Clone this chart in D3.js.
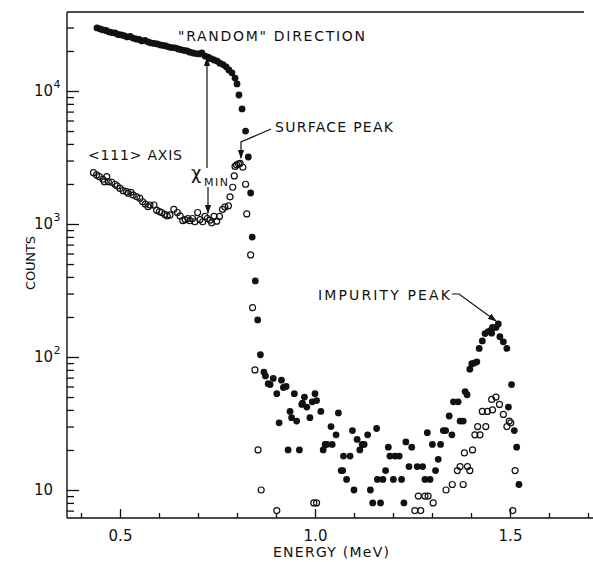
<!DOCTYPE html>
<html>
<head>
<meta charset="utf-8">
<script src="https://cdn.jsdelivr.net/npm/d3@7"></script>
<style>
  html, body { margin: 0; padding: 0; background: #fff; }
  svg { display: block; }
  text { font-family: "DejaVu Sans", "Liberation Sans", sans-serif; fill: #111; }
</style>
</head>
<body>
<svg id="chart" width="593" height="562"></svg>
<script>
// [energy (MeV), counts]
const randomPlateau = [
  [0.441, 29800], [0.449, 29300], [0.456, 28800], [0.464, 28500], [0.472, 27800], [0.479, 27500],
  [0.487, 27300], [0.495, 26600], [0.503, 26400], [0.510, 26100], [0.518, 25500], [0.526, 25700],
  [0.533, 25000], [0.541, 24600], [0.549, 24400], [0.556, 23800], [0.564, 24000], [0.572, 23400],
  [0.579, 23000], [0.587, 22800], [0.595, 22600], [0.603, 22200], [0.610, 22000], [0.618, 21800],
  [0.626, 21400], [0.633, 21200], [0.641, 21100], [0.649, 20700], [0.656, 20500], [0.664, 20200],
  [0.672, 20000], [0.679, 19600], [0.687, 19300], [0.695, 19100], [0.703, 19000], [0.710, 19300],
  [0.718, 18300], [0.726, 18000], [0.733, 17500], [0.741, 17100], [0.749, 16800], [0.756, 16200],
  [0.764, 15800], [0.772, 15200], [0.779, 14400], [0.787, 13700], [0.795, 12500], [0.800, 11300]
];
const randomEdge = [
  [0.805, 9330], [0.813, 7330], [0.822, 5000], [0.829, 3190], [0.835, 1710], [0.839, 798],
  [0.847, 373], [0.853, 190], [0.860, 104]
];
const randomTail = [
  [0.869, 77], [0.873, 72], [0.880, 63], [0.885, 62], [0.893, 69], [0.902, 53], [0.908, 32],
  [0.914, 67], [0.919, 59], [0.926, 60], [0.931, 20], [0.936, 39], [0.940, 35], [0.947, 53],
  [0.953, 33], [0.960, 20], [0.966, 44], [0.968, 45], [0.973, 50], [0.979, 42], [0.987, 35],
  [0.993, 46], [1.000, 53], [1.004, 47], [1.015, 39], [1.021, 20], [1.026, 22], [1.030, 22],
  [1.041, 30], [1.044, 22], [1.054, 26], [1.060, 38], [1.067, 14], [1.071, 14], [1.073, 18],
  [1.081, 12], [1.090, 18], [1.096, 28], [1.100, 10], [1.108, 24], [1.115, 20], [1.121, 22],
  [1.126, 22], [1.135, 26], [1.142, 10], [1.148, 8], [1.158, 29], [1.160, 12], [1.168, 8],
  [1.174, 12], [1.181, 14], [1.188, 21], [1.192, 18], [1.201, 12], [1.205, 18], [1.216, 18],
  [1.222, 12], [1.228, 8], [1.233, 23], [1.241, 15], [1.248, 21], [1.262, 15], [1.276, 15],
  [1.282, 12], [1.288, 27], [1.295, 12], [1.301, 22], [1.309, 14], [1.316, 17], [1.322, 22],
  [1.329, 28], [1.335, 28], [1.344, 36], [1.351, 26], [1.355, 46], [1.367, 46], [1.372, 33],
  [1.380, 33], [1.385, 55], [1.390, 52], [1.397, 81], [1.402, 89], [1.408, 90], [1.415, 92],
  [1.421, 116], [1.429, 132], [1.436, 150], [1.444, 155], [1.452, 160], [1.453, 151], [1.455, 167],
  [1.464, 167], [1.470, 177], [1.474, 142], [1.483, 130], [1.492, 116], [1.496, 42], [1.504, 62],
  [1.511, 28], [1.517, 21], [1.523, 11]
];

const axisPlateau = [
  [0.432, 2430], [0.440, 2340], [0.447, 2270], [0.456, 2170], [0.460, 2080], [0.466, 2270],
  [0.470, 2080], [0.479, 2060], [0.487, 1990], [0.493, 1930], [0.500, 1850], [0.508, 1780],
  [0.517, 1750], [0.521, 1700], [0.528, 1730], [0.534, 1650], [0.543, 1600], [0.551, 1560],
  [0.558, 1470], [0.565, 1410], [0.572, 1350], [0.577, 1390], [0.587, 1390], [0.594, 1270],
  [0.601, 1240], [0.607, 1220], [0.615, 1180], [0.621, 1150], [0.628, 1170], [0.638, 1290],
  [0.647, 1220], [0.654, 1150], [0.661, 1060], [0.667, 1080], [0.674, 1100], [0.679, 1060],
  [0.686, 1100], [0.692, 1040], [0.699, 1220], [0.705, 1080], [0.712, 1040], [0.718, 1140],
  [0.724, 1100], [0.731, 1070], [0.735, 1020], [0.741, 1140], [0.748, 1050], [0.755, 1140],
  [0.763, 1290], [0.769, 1340], [0.778, 1370]
];
const axisEdge = [
  [0.782, 1600], [0.789, 1890], [0.793, 2300], [0.795, 2710], [0.799, 2780], [0.804, 2830],
  [0.808, 2860], [0.815, 2670], [0.822, 1990], [0.825, 1190], [0.835, 585], [0.840, 235],
  [0.846, 80], [0.854, 20], [0.862, 10], [0.902, 7]
];
const axisTail = [
  [0.997, 8], [1.004, 8], [1.256, 7], [1.265, 9], [1.271, 7], [1.282, 9], [1.290, 9], [1.303, 8],
  [1.336, 10], [1.352, 11], [1.365, 14], [1.372, 15], [1.380, 11], [1.383, 19], [1.391, 15],
  [1.397, 14], [1.404, 20], [1.410, 26], [1.417, 30], [1.423, 26], [1.429, 39], [1.438, 30],
  [1.442, 39], [1.453, 48], [1.455, 40], [1.464, 50], [1.473, 44], [1.483, 37], [1.492, 30],
  [1.498, 33], [1.502, 32], [1.507, 7], [1.513, 14]
];

const xMajorTicks = [0.5, 1.0, 1.5];
const xMinorTicks = [0.4, 0.6, 0.7, 0.8, 0.9, 1.1, 1.2, 1.3, 1.4, 1.6, 1.7];
const yMajorTicks = [10, 100, 1000, 10000];
const yTickExponents = ["", "2", "3", "4"];

const svg = d3.select("#chart");
const plotLeft = 67, plotRight = 593, plotTop = 12, plotBottom = 518;

const x = d3.scaleLinear().domain([0.5, 1.5]).range([120, 510]);
const y = d3.scaleLog().domain([10, 10000]).range([490, 91]);

const yMinorTicks = [1, 10, 100, 1000, 10000]
  .flatMap(d => [2, 3, 4, 5, 6, 7, 8, 9].map(m => m * d))
  .filter(v => y(v) > plotTop + 4 && y(v) < plotBottom - 3);

// frame
const frame = svg.append("g").attr("stroke", "#111").attr("stroke-width", 1.4);
frame.append("line").attr("x1", plotLeft).attr("x2", plotRight).attr("y1", plotBottom).attr("y2", plotBottom);
frame.append("line").attr("x1", plotLeft).attr("x2", plotLeft).attr("y1", plotTop).attr("y2", plotBottom);
frame.append("line").attr("x1", plotLeft).attr("x2", 584).attr("y1", plotTop).attr("y2", plotTop);

function styleAxis(g) {
  g.select(".domain").remove();
  g.selectAll(".tick line").attr("stroke", "#111").attr("stroke-width", 1.3);
  g.attr("font-family", null).attr("font-size", null);
}

svg.append("g").attr("transform", `translate(0,${plotBottom})`)
  .call(d3.axisBottom(x).tickValues(xMinorTicks).tickSize(-5).tickFormat(""))
  .call(styleAxis);
svg.append("g").attr("transform", `translate(0,${plotBottom})`)
  .call(d3.axisBottom(x).tickValues(xMajorTicks).tickSize(-9).tickPadding(12).tickFormat(d3.format(".1f")))
  .call(styleAxis)
  .selectAll("text").attr("font-size", 15).attr("fill", "#111");

svg.append("g").attr("transform", `translate(${plotLeft},0)`)
  .call(d3.axisLeft(y).tickValues(yMinorTicks).tickSize(-7).tickFormat(""))
  .call(styleAxis);
svg.append("g").attr("transform", `translate(${plotLeft},0)`)
  .call(d3.axisLeft(y).tickValues(yMajorTicks).tickSize(-12).tickFormat(""))
  .call(styleAxis);

const yLabels = svg.append("g");
yMajorTicks.forEach((v, i) => {
  yLabels.append("text").attr("x", 53).attr("y", y(v)).attr("dy", "0.33em")
    .attr("text-anchor", "end").attr("font-size", 15).text("10");
  if (yTickExponents[i]) {
    yLabels.append("text").attr("x", 53.5).attr("y", y(v) - 3)
      .attr("font-size", 11).text(yTickExponents[i]);
  }
});

// axis titles
svg.append("text").attr("x", 331).attr("y", 557).attr("text-anchor", "middle")
  .attr("font-size", 14).attr("textLength", 116).text("ENERGY (MeV)");
svg.append("text").attr("transform", "translate(35,263) rotate(-90)").attr("text-anchor", "middle")
  .attr("font-size", 13).attr("textLength", 54).text("COUNTS");

// data
const random = randomPlateau.concat(randomEdge, randomTail);
const channeled = axisPlateau.concat(axisEdge, axisTail);

svg.append("g").selectAll("circle").data(random).join("circle")
  .attr("cx", d => x(d[0])).attr("cy", d => y(d[1])).attr("r", 3.4)
  .attr("fill", "#111");

svg.append("g").selectAll("circle").data(channeled).join("circle")
  .attr("cx", d => x(d[0])).attr("cy", d => y(d[1])).attr("r", 3)
  .attr("fill", "none").attr("stroke", "#111").attr("stroke-width", 1.2);

// annotations
svg.append("defs").append("marker")
  .attr("id", "head").attr("viewBox", "0 0 10 10").attr("refX", 9).attr("refY", 5)
  .attr("markerWidth", 9).attr("markerHeight", 9).attr("markerUnits", "userSpaceOnUse")
  .attr("orient", "auto")
  .append("path").attr("d", "M0,1.5 L10,5 L0,8.5 Z").attr("fill", "#111");

const line = d3.line();
const arrows = [
  [[207, 168], [207, 58]],
  [[208, 187], [208, 213]],
  [[271, 129], [241, 142], [241, 158]],
  [[452, 294], [459, 294], [496, 321]]
];
svg.append("g").selectAll("path").data(arrows).join("path")
  .attr("d", line).attr("fill", "none").attr("stroke", "#111").attr("stroke-width", 1.2)
  .attr("marker-end", "url(#head)");

const notes = [
  { text: "\"RANDOM\" DIRECTION", x: 178, y: 41, len: 187 },
  { text: "SURFACE PEAK", x: 275, y: 132, len: 118 },
  { text: "<111> AXIS", x: 88, y: 160, len: 94 },
  { text: "IMPURITY PEAK", x: 318, y: 300, len: 132 }
];
svg.append("g").selectAll("text").data(notes).join("text")
  .attr("x", d => d.x).attr("y", d => d.y).attr("font-size", 14)
  .attr("textLength", d => d.len).attr("lengthAdjust", "spacing").text(d => d.text);

svg.append("text").attr("x", 191).attr("y", 179).attr("font-size", 18).text("\u03C7");
svg.append("text").attr("x", 204).attr("y", 186).attr("font-size", 11)
  .attr("textLength", 24).text("MIN");
</script>
</body>
</html>
